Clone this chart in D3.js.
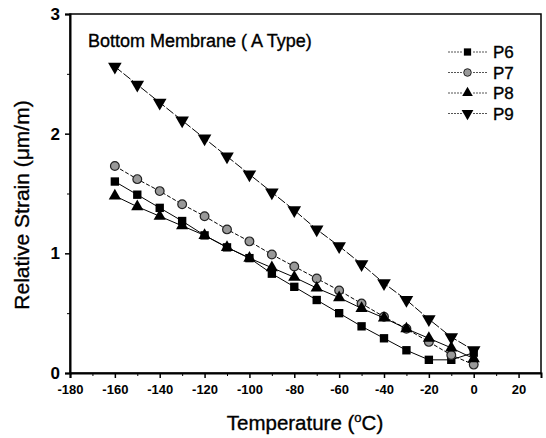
<!DOCTYPE html>
<html>
<head>
<meta charset="utf-8">
<script src="https://cdn.jsdelivr.net/npm/d3@7"></script>
<style>
  html, body { margin: 0; padding: 0; background: #fff; }
  svg { display: block; font-family: "Liberation Sans", Arial, sans-serif; }
  .heavy { stroke: #000; stroke-width: 0.35px; }
</style>
</head>
<body>
<svg id="chart" width="546" height="438"></svg>
<script>
// temperatures
const temps = [-160, -150, -140, -130, -120, -110, -100, -90, -80, -70, -60, -50, -40, -30, -20, -10, 0];

const p6 = [1.60, 1.49, 1.38, 1.27, 1.15, 1.05, 0.96, 0.83, 0.72, 0.61, 0.50, 0.39, 0.29, 0.19, 0.11, 0.11, 0.17];
const p7 = [1.73, 1.62, 1.52, 1.41, 1.31, 1.20, 1.10, 0.99, 0.89, 0.79, 0.69, 0.58, 0.47, 0.37, 0.26, 0.15, 0.07];
const p8 = [1.48, 1.39, 1.31, 1.23, 1.15, 1.05, 0.96, 0.88, 0.80, 0.71, 0.63, 0.54, 0.46, 0.37, 0.29, 0.21, 0.12];
const p9 = [2.56, 2.41, 2.26, 2.11, 1.96, 1.81, 1.66, 1.51, 1.36, 1.20, 1.06, 0.91, 0.75, 0.61, 0.45, 0.30, 0.19];

const seriesNames = ['P6', 'P7', 'P8', 'P9'];
const xTicks = [-180, -160, -140, -120, -100, -80, -60, -40, -20, 0, 20];
const xMinor = [-170, -150, -130, -110, -90, -70, -50, -30, -10, 10, 30];
const yTicks = [0, 1, 2, 3];
const yMinor = [0.5, 1.5, 2.5];

const styles = {
  P6: { shape: d3.symbolSquare, size: 70, fill: '#000', dash: null },
  P7: { shape: d3.symbolCircle, size: 60, fill: '#999', dash: '4,2' },
  P8: { shape: d3.symbolTriangle, size: 65, fill: '#000', dash: null },
  P9: { shape: d3.symbolTriangle, size: 80, fill: '#000', dash: '9,2', rotate: 180 }
};

const series = [p6, p7, p8, p9].map((vals, i) => ({
  name: seriesNames[i],
  points: temps.map((t, j) => ({ t: t, v: vals[j] }))
}));

const svg = d3.select('#chart');
const plotLeft = 70, plotRight = 541, plotTop = 14, plotBottom = 373;

let x = d3.scaleLinear().domain([-180, 30]).range([plotLeft, plotRight]);
let y = d3.scaleLinear().domain([0, 3]).range([plotBottom, plotTop]);

// frame
svg.append('rect')
    .attr('x', plotLeft).attr('y', plotTop)
    .attr('width', plotRight - plotLeft).attr('height', plotBottom - plotTop)
    .attr('fill', 'none').attr('stroke', '#000').attr('stroke-width', 1.5);

// x axis (plain hyphen for negatives, like the original)
let xAxis = svg.append('g')
    .attr('transform', `translate(0,${plotBottom})`)
    .call(d3.axisBottom(x).tickValues(xTicks).tickSize(5).tickPadding(7).tickFormat(d => String(d)));
xAxis.selectAll('text')
    .attr('font-size', 13).attr('font-weight', 'bold')
    .attr('font-family', 'Liberation Sans, Arial, sans-serif').attr('fill', '#000');
xAxis.select('.domain').attr('stroke-width', 2);
xAxis.selectAll('.tick line').attr('stroke-width', 1.5);
svg.append('g')
    .attr('transform', `translate(0,${plotBottom})`)
    .call(d3.axisBottom(x).tickValues(xMinor).tickSize(3).tickFormat(''))
    .call(g => g.select('.domain').remove());

// y axis
let yAxis = svg.append('g')
    .attr('transform', `translate(${plotLeft},0)`)
    .call(d3.axisLeft(y).tickValues(yTicks).tickSize(5).tickPadding(5).tickFormat(d => String(d)));
yAxis.selectAll('text')
    .attr('font-size', 17).attr('font-weight', 'bold')
    .attr('font-family', 'Liberation Sans, Arial, sans-serif').attr('fill', '#000');
yAxis.select('.domain').attr('stroke-width', 2);
yAxis.selectAll('.tick line').attr('stroke-width', 1.5);
svg.append('g')
    .attr('transform', `translate(${plotLeft},0)`)
    .call(d3.axisLeft(y).tickValues(yMinor).tickSize(3).tickFormat(''))
    .call(g => g.select('.domain').remove());

// axis titles
let xTitle = svg.append('text')
    .attr('class', 'heavy')
    .attr('x', 305).attr('y', 430)
    .attr('text-anchor', 'middle')
    .attr('font-size', 20.5)
    .text('Temperature (');
xTitle.append('tspan').attr('font-size', 13).attr('dy', -8).text('o');
xTitle.append('tspan').attr('dy', 8).text('C)');

svg.append('text')
    .attr('class', 'heavy')
    .attr('transform', 'translate(29,205) rotate(-90)')
    .attr('text-anchor', 'middle')
    .attr('font-size', 21)
    .text('Relative Strain (\u03bcm/m)');

// panel title
svg.append('text')
    .attr('class', 'heavy')
    .attr('x', 88).attr('y', 47)
    .attr('font-size', 18)
    .text('Bottom Membrane ( A Type)');

// lines and markers
let line = d3.line().x(d => x(d.t)).y(d => y(d.v));

series.forEach(s => {
  let st = styles[s.name];
  svg.append('path')
      .datum(s.points)
      .attr('d', line)
      .attr('fill', 'none')
      .attr('stroke', '#000')
      .attr('stroke-width', 1)
      .attr('stroke-dasharray', st.dash);

  svg.append('g').selectAll('path')
      .data(s.points)
      .join('path')
      .attr('d', d3.symbol().type(st.shape).size(st.size))
      .attr('transform', d => `translate(${x(d.t)},${y(d.v)})` + (st.rotate ? ` rotate(${st.rotate})` : ''))
      .attr('fill', st.fill)
      .attr('stroke', s.name === 'P7' ? '#222' : 'none')
      .attr('stroke-width', 1.2);
});

// legend
let legend = svg.append('g');
series.forEach((s, i) => {
  let st = styles[s.name];
  let ly = 52 + i * 20.5;
  legend.append('line')
      .attr('x1', 448).attr('x2', 462).attr('y1', ly).attr('y2', ly)
      .attr('stroke', '#555').attr('stroke-width', 1)
      .attr('stroke-dasharray', '2,1');
  legend.append('line')
      .attr('x1', 473).attr('x2', 488).attr('y1', ly).attr('y2', ly)
      .attr('stroke', '#555').attr('stroke-width', 1)
      .attr('stroke-dasharray', '2,1');
  legend.append('path')
      .attr('d', d3.symbol().type(st.shape).size(st.size * 0.75))
      .attr('transform', `translate(467.5,${ly})` + (st.rotate ? ` rotate(${st.rotate})` : ''))
      .attr('fill', st.fill)
      .attr('stroke', s.name === 'P7' ? '#222' : 'none')
      .attr('stroke-width', 1);
  legend.append('text')
      .attr('class', 'heavy')
      .attr('x', 493).attr('y', ly + 6)
      .attr('font-size', 17)
      .text(s.name);
});
</script>
</body>
</html>
